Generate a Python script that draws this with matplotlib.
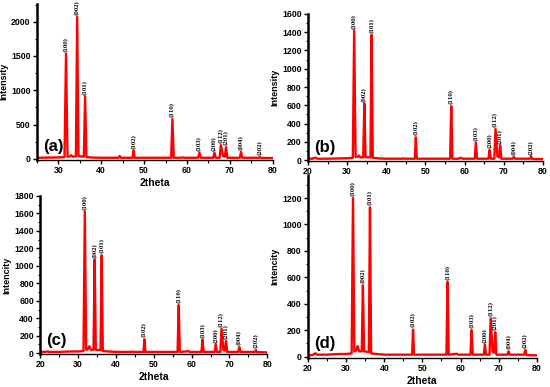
import matplotlib
matplotlib.use("Agg")
import matplotlib.pyplot as plt
from matplotlib.ticker import MultipleLocator

plt.rcParams['font.family'] = ['Liberation Sans', 'DejaVu Sans']
plt.rcParams['font.weight'] = 'bold'

# shared 2theta grid (vertices)
two_theta = [20.0, 21.2, 21.6, 22.0, 22.4, 25.0, 28.0, 30.0, 31.45, 31.8, 32.15,
             32.6, 33.0, 33.4, 34.1, 34.4, 34.7, 35.95, 36.25, 36.55, 38.0, 40.0,
             44.0, 44.3, 44.6, 47.3, 47.55, 47.8, 50.0, 54.0, 56.3, 56.6, 56.9,
             58.5, 59.0, 59.5, 62.6, 62.9, 63.2, 66.1, 66.4, 66.7, 67.6, 67.9,
             68.4, 68.8, 69.1, 69.4, 72.3, 72.6, 72.9, 76.7, 77.0, 77.3, 80.0]

intensity_a = [15, 15, 15, 15, 15, 15, 18, 20, 25, 1530, 30, 35, 50, 30, 35, 2070, 40, 30,
               910, 25, 18, 15, 15, 40, 15, 15, 120, 15, 15, 15, 15, 580, 15, 15, 20, 15,
               15, 90, 15, 15, 90, 15, 15, 200, 40, 30, 170, 15, 15, 100, 15, 15, 25, 12, 10]
intensity_b = [15, 15, 25, 25, 15, 15, 18, 20, 25, 1420, 35, 35, 50, 30, 30, 620, 30, 30,
               1370, 25, 18, 15, 15, 18, 15, 15, 250, 15, 15, 15, 15, 590, 15, 15, 25, 15,
               15, 190, 15, 15, 110, 15, 15, 340, 40, 30, 160, 15, 15, 35, 15, 15, 40, 12, 10]
intensity_c = [15, 15, 18, 20, 15, 15, 20, 20, 25, 1620, 40, 45, 80, 40, 40, 1070, 40, 35,
               1120, 25, 20, 15, 15, 18, 15, 15, 160, 15, 15, 15, 15, 550, 15, 20, 25, 15,
               15, 155, 15, 15, 100, 15, 15, 280, 40, 30, 140, 15, 15, 70, 15, 15, 35, 12, 10]
intensity_d = [10, 12, 20, 25, 15, 15, 20, 20, 25, 1200, 40, 45, 80, 40, 40, 540, 40, 35,
               1130, 25, 20, 15, 15, 15, 15, 15, 205, 15, 15, 15, 15, 565, 15, 20, 22, 15,
               15, 200, 15, 15, 90, 15, 15, 290, 40, 30, 185, 15, 15, 40, 15, 15, 50, 12, 10]

hkl = ["(100)", "(002)", "(101)", "(102)", "(110)", "(103)", "(200)", "(112)",
       "(201)", "(004)", "(202)"]
peak_idx = [9, 15, 18, 26, 31, 37, 40, 43, 46, 49, 52]

panels = [
    ("(a)", intensity_a, "Intensity", [0.067, 0.587, 0.429, 0.403], (25, 80), (-15, 2260), 500, 250),
    ("(b)", intensity_b, "Intensity", [0.560, 0.584, 0.427, 0.380], (20, 80), (-10, 1600), 200, 100),
    ("(c)", intensity_c, "Intencity", [0.073, 0.085, 0.413, 0.409], (20, 80), (-10, 1800), 200, 100),
    ("(d)", intensity_d, "Intencity", [0.560, 0.075, 0.416, 0.473], (20, 80), (-10, 1375), 200, 100),
]

fig = plt.figure(figsize=(5.5, 3.87), dpi=100)

for tag, inten, ylab, rect, xl, yl, ymaj, ymin in panels:
    ax = fig.add_axes(rect)
    ax.plot(two_theta, inten, color="red", lw=1.7)
    ax.set_xlim(*xl)
    ax.set_ylim(*yl)
    span = yl[1] - yl[0]
    for lab, i in zip(hkl, peak_idx):
        ax.text(two_theta[i], inten[i] + span * 0.012, lab, rotation=90,
                ha="center", va="bottom", fontsize=3.5, family="DejaVu Serif",
                fontweight="bold")
    ax.text(0.025, 0.04, tag, transform=ax.transAxes, fontsize=12,
            fontweight="bold", ha="left", va="bottom")
    ax.set_xlabel("2theta", fontsize=7.5, fontweight="bold", labelpad=2)
    ax.set_ylabel(ylab, fontsize=6.5, fontweight="bold", labelpad=2)
    ax.xaxis.set_major_locator(MultipleLocator(10))
    ax.xaxis.set_minor_locator(MultipleLocator(5))
    ax.yaxis.set_major_locator(MultipleLocator(ymaj))
    ax.yaxis.set_minor_locator(MultipleLocator(ymin))
    for s in ["top", "right"]:
        ax.spines[s].set_visible(False)
    ax.spines["left"].set_linewidth(1.8)
    ax.spines["bottom"].set_linewidth(1.0)
    ax.tick_params(which="major", length=3, width=1, labelsize=6.3, pad=1.5)
    ax.tick_params(which="minor", length=1.8, width=0.8)
    for t in ax.get_xticklabels() + ax.get_yticklabels():
        t.set_fontweight("bold")

fig.savefig("out.png", dpi=100)
